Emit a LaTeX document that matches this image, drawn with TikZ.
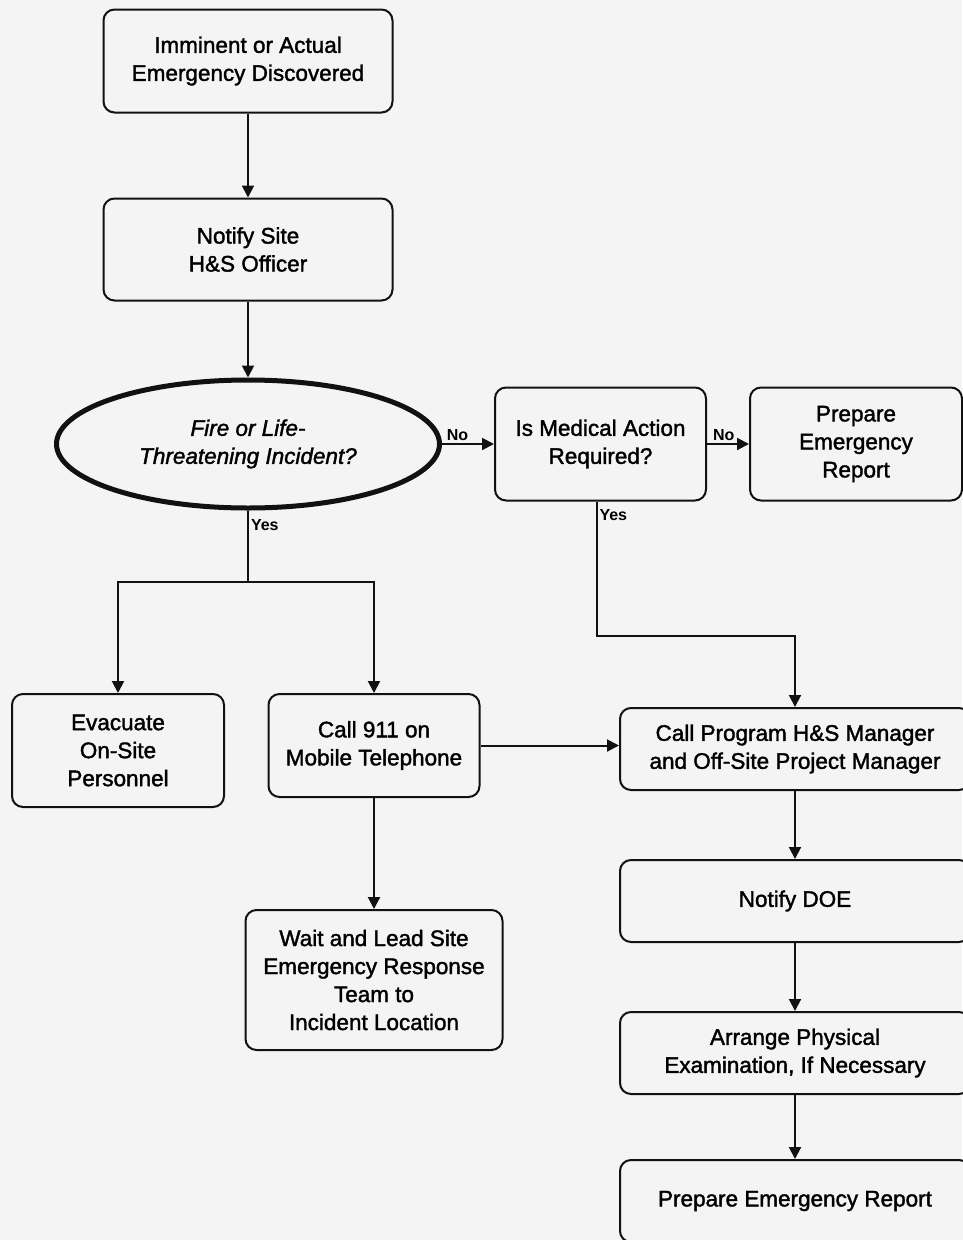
\documentclass[tikz,border=0pt]{standalone}
\usepackage{fontspec}
\setmainfont{Liberation Sans}
\newfontfamily\scanfont{Liberation Sans}[FakeBold=1.6]
\usetikzlibrary{arrows.meta,positioning,shapes.geometric}
\definecolor{paper}{HTML}{F4F4F4}
\definecolor{ink}{HTML}{111111}

\begin{document}
\begin{tikzpicture}[
  x=1pt, y=-1pt,
  box/.style={rectangle, rounded corners=11pt, draw=ink, fill=paper, line width=2pt, align=center, inner sep=0pt, font=\scanfont\fontsize{22.5}{28}\selectfont},
  decision/.style={ellipse, draw=ink, fill=paper, line width=5pt, align=center, inner sep=0pt, minimum height=128pt, font=\scanfont\fontsize{22.5}{28}\selectfont\itshape},
  answer/.style={font=\fontsize{16}{18}\selectfont\bfseries, inner sep=2pt},
  arrow/.style={-{Triangle[length=12pt, width=12pt]}, line width=2pt, draw=ink}
]
\fill[paper] (0,0) rectangle (962,1240);
\useasboundingbox (0,0) rectangle (962,1240);

% main column
\node[box, minimum width=289pt, minimum height=103pt] (found) at (248,61) {Imminent or Actual\\Emergency Discovered};
\node[box, minimum width=289pt, minimum height=102pt, below=84pt of found] (notify) {Notify Site\\H\&S Officer};
\node[decision, minimum width=383pt, below=76pt of notify] (fire) {Fire or Life-\\Threatening Incident?};
\node[box, minimum width=211pt, minimum height=113pt, right=52pt of fire] (medical) {Is Medical Action\\Required?};
\node[box, minimum width=212pt, minimum height=113pt, right=42pt of medical] (report) {Prepare\\Emergency\\Report};

% fire branch
\node[box, minimum width=212pt, minimum height=113pt, anchor=north] (evacuate) at (118,693) {Evacuate\\On-Site\\Personnel};
\node[box, minimum width=211pt, minimum height=103pt, anchor=north] (call) at (374,693) {Call 911 on\\Mobile Telephone};
\node[box, minimum width=257pt, minimum height=140pt, below=111pt of call] (wait) {Wait and Lead Site\\Emergency Response\\Team to\\Incident Location};

% medical branch
\node[box, minimum width=350pt, minimum height=82pt] (program) at (795,749) {Call Program H\&S Manager\\and Off-Site Project Manager};
\node[box, minimum width=350pt, minimum height=82pt, below=68pt of program] (doe) {Notify DOE};
\node[box, minimum width=350pt, minimum height=82pt, below=68pt of doe] (exam) {Arrange Physical\\Examination, If Necessary};
\node[box, minimum width=350pt, minimum height=82pt, below=64pt of exam] (final) {Prepare Emergency Report};

\draw[arrow] (found) -- (notify);
\draw[arrow] (notify) -- (fire);
\draw[arrow] (fire) -- node[answer, above, pos=0.3] {No} (medical);
\draw[arrow] (medical) -- node[answer, above, pos=0.4] {No} (report);
\draw[line width=2pt, draw=ink] (fire.south) -- node[answer, right, pos=0.2] {Yes} ++(0,71) coordinate (split);
\draw[arrow] (split) -| (evacuate);
\draw[arrow] (split) -| (call);
\draw[arrow] ([xshift=-4pt]medical.south) -- node[answer, right, pos=0.1] {Yes} ++(0,134) -| (program);
\draw[arrow] (call.east) -- (call.east -| program.west);
\draw[arrow] (call) -- (wait);
\draw[arrow] (program) -- (doe);
\draw[arrow] (doe) -- (exam);
\draw[arrow] (exam) -- (final);
\end{tikzpicture}
\end{document}
